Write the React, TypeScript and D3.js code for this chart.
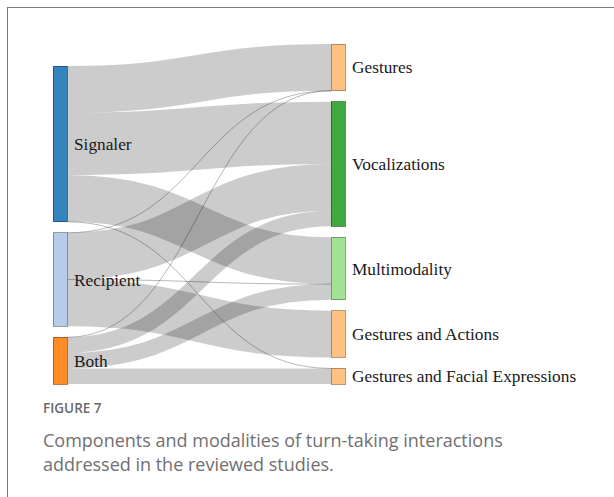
import React from "react";
import * as d3 from "d3";

const nodeNames = [
  "Signaler",
  "Recipient",
  "Both",
  "Gestures",
  "Vocalizations",
  "Multimodality",
  "Gestures and Actions",
  "Gestures and Facial Expressions",
];
const linkSources = [0, 0, 0, 0, 1, 1, 1, 1, 2, 2, 2, 2];
const linkTargets = [3, 4, 5, 7, 3, 4, 5, 6, 3, 4, 5, 7];
const linkValues = [3, 4, 3, 0, 0, 3, 0, 3, 0, 1, 1, 1];

const captionLines = [
  "Components and modalities of turn-taking interactions",
  "addressed in the reviewed studies.",
];

const width = 614, height = 497;
const leftX = 53, rightX = 331, nodeW = 14;
const top = 44, bottom = 384, pad = 11;

// colour by first word, like the old sankey demo
const color = d3.scaleOrdinal<string, string>()
  .range([
    "#1f77b4", "#aec7e8", "#ff7f0e", "#ffbb78", "#2ca02c", "#98df8a",
    "#d62728", "#ff9896",
  ]);

function layout() {
  const nodes = nodeNames.map((name, i) => ({
    name, i, x0: 0, y0: 0, y1: 0,
    value: 0, left: false,
  }));
  const links = linkSources.map((s, i) => ({
    source: nodes[s], target: nodes[linkTargets[i]], value: linkValues[i],
    y0: 0, y1: 0, width: 0,
  }));
  nodes.forEach((n) => {
    const out = d3.sum(links.filter((l) => l.source === n), (l) => l.value);
    const inn = d3.sum(links.filter((l) => l.target === n), (l) => l.value);
    n.value = Math.max(out, inn);
    n.left = links.some((l) => l.source === n);
  });
  const leftNodes = nodes.filter((n) => n.left);
  const rightNodes = nodes.filter((n) => !n.left);

  const total = d3.sum(rightNodes, (n) => n.value);
  const ky = d3.scaleLinear()
    .domain([0, total])
    .range([0, bottom - top - (rightNodes.length - 1) * pad]);

  let y = top;
  rightNodes.forEach((n) => {
    n.x0 = rightX;
    n.y0 = y;
    n.y1 = y + ky(n.value);
    y = n.y1 + pad;
  });
  y = bottom;
  leftNodes.slice().reverse().forEach((n) => {
    n.x0 = leftX;
    n.y1 = y;
    n.y0 = y - ky(n.value);
    y = n.y0 - pad;
  });

  links.forEach((l) => (l.width = ky(l.value)));
  nodes.forEach((n) => {
    let sy = n.y0;
    links.filter((l) => l.source === n)
      .sort((a, b) => a.target.y0 - b.target.y0)
      .forEach((l) => { l.y0 = sy + l.width / 2; sy += l.width; });
    let ty = n.y0;
    links.filter((l) => l.target === n)
      .sort((a, b) => a.source.y0 - b.source.y0)
      .forEach((l) => { l.y1 = ty + l.width / 2; ty += l.width; });
  });
  return { nodes, links };
}

const App = () => {
  const { nodes, links } = layout();
  const linkPath = d3.linkHorizontal<any, [number, number]>()
    .source((d: any) => [d.source.x0 + nodeW, d.y0])
    .target((d: any) => [d.target.x0, d.y1]);

  return (
    <svg width={width} height={height}
      style={{ position: "absolute", left: 0, top: 0, background: "#fff" }}>
      <rect x={7.5} y={7.5} width={640} height={600} fill="none" stroke="#7a7a7a" />
      <g fill="none" stroke="#000">
        {links.map((l, i) => (
          <path key={i} d={linkPath(l as any) || ""}
            strokeOpacity={l.value === 0 ? 0.28 : 0.2}
            strokeWidth={Math.max(1, l.width)} />
        ))}
      </g>
      {nodes.map((n) => {
        const c = color(n.name.replace(/ .*/, ""));
        return (
          <g key={n.name}>
            <rect x={n.x0} y={n.y0} width={nodeW} height={n.y1 - n.y0}
              fill={c} fillOpacity={0.9}
              stroke={d3.rgb(c).darker(1.5).toString()} strokeOpacity={0.7}
              shapeRendering="crispEdges" />
            <text x={n.x0 + nodeW + 7} y={(n.y0 + n.y1) / 2} dy="0.35em"
              fontFamily="'Liberation Serif', serif" fontSize={17.3} fill="#1a1a1a">
              {n.name}
            </text>
          </g>
        );
      })}
      <text x={43} y={413} fontFamily="'Open Sans', sans-serif" fontWeight={600}
        fontSize={13.5} fill="#6a6a6a">FIGURE 7</text>
      {captionLines.map((t, i) => (
        <text key={i} x={43} y={447 + i * 24} fontFamily="'Open Sans', sans-serif"
          fontSize={18} fill="#707070">{t}</text>
      ))}
    </svg>
  );
};

export default App;
